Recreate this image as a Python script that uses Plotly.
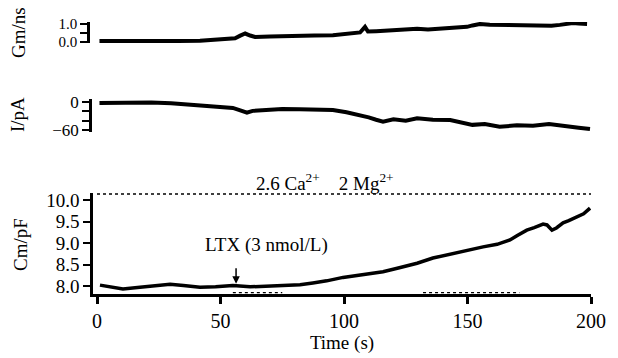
import plotly.graph_objects as go

# ---- data ----
gm_t = [1, 10, 20, 30, 41.7, 50, 55.9, 58, 60, 62, 64, 70, 76, 82, 88, 95.5, 101, 106.5, 108.5, 109.7, 113, 115.8, 120, 125, 129.6, 134, 140, 145, 149.8, 152, 155, 159, 163.2, 168, 172, 176.5, 181, 184, 187.4, 190, 192.7, 195, 198.4]
gm_v = [0.05, 0.04, 0.05, 0.05, 0.07, 0.12, 0.21, 0.35, 0.47, 0.36, 0.28, 0.3, 0.33, 0.37, 0.36, 0.38, 0.45, 0.53, 0.84, 0.58, 0.6, 0.63, 0.68, 0.72, 0.74, 0.7, 0.74, 0.8, 0.84, 0.92, 1.0, 0.96, 0.95, 0.93, 0.9, 0.89, 0.92, 0.9, 0.95, 1.0, 1.05, 1.02, 1.0]

i_t = [1, 8, 14.6, 22, 30, 41.7, 48, 55, 58, 60.7, 63, 68.8, 75, 82, 88, 95.5, 101, 106.5, 110, 113, 115.8, 120, 125, 129.6, 136, 143, 148, 152, 157, 163, 170, 176.5, 183, 187, 190, 195, 199.6]
i_v = [-2, -1, -1.5, -1, -2.5, -6.4, -9, -12.8, -18, -23, -19, -17, -15, -15.6, -16, -17, -22, -28, -33, -38, -42, -37, -40, -35, -38, -38.5, -44, -49, -47, -53, -50, -51, -47, -50, -53, -55, -58]

cm_t = [1.2, 5.3, 10.5, 17.4, 24, 29.6, 35, 41.7, 48, 55, 62, 68.8, 75, 82.2, 87.4, 93, 99.6, 106, 110, 115.8, 122, 129.6, 136, 140, 145.7, 151, 156.3, 162, 167.2, 170, 174, 177, 180.6, 182.2, 184.2, 186, 188.7, 191, 194.3, 197, 199.6]
cm_v = [8.02, 7.98, 7.93, 7.97, 8.0, 8.04, 8.01, 7.97, 7.98, 8.01, 7.98, 7.99, 8.01, 8.03, 8.07, 8.12, 8.2, 8.25, 8.28, 8.33, 8.42, 8.53, 8.65, 8.7, 8.79, 8.84, 8.91, 8.97, 9.07, 9.17, 9.3, 9.36, 9.44, 9.42, 9.3, 9.35, 9.47, 9.52, 9.6, 9.68, 9.81]

solution_level = 10.14
solution_t = [0, 200]
baseline_level = 7.845
baseline_t = [55, 75, None, 132, 171]
ltx_time = 56.3

x_ticks = [0, 50, 100, 150, 200]
cm_ticks = [8.0, 8.5, 9.0, 9.5, 10.0]
gm_ticks = [0.0, 0.5, 1.0]
gm_labels = ["0.0", "", "1.0"]
i_ticks = [0, -20, -40, -60]
i_labels = ["0", "", "", "\u221260"]

FONT = "Liberation Serif"
BLACK = "#000000"

fig = go.Figure()
fig.add_trace(go.Scatter(x=gm_t, y=gm_v, mode="lines", yaxis="y3",
                         line=dict(color=BLACK, width=4), showlegend=False))
fig.add_trace(go.Scatter(x=i_t, y=i_v, mode="lines", yaxis="y2",
                         line=dict(color=BLACK, width=4), showlegend=False))
fig.add_trace(go.Scatter(x=cm_t, y=cm_v, mode="lines", yaxis="y",
                         line=dict(color=BLACK, width=3.5), showlegend=False))
fig.add_trace(go.Scatter(x=solution_t, y=[solution_level] * len(solution_t), mode="lines",
                         yaxis="y", line=dict(color=BLACK, width=1.3, dash="dot"),
                         showlegend=False))
fig.add_trace(go.Scatter(x=baseline_t,
                         y=[None if t is None else baseline_level for t in baseline_t],
                         mode="lines", yaxis="y", connectgaps=False,
                         line=dict(color=BLACK, width=1.3, dash="dot"), showlegend=False))

L, R, T, B = 86, 27, 20, 64
W, H = 618, 358
pw = W - L - R
ph = H - T - B


def px(xp):
    return (xp - L) / pw


def py(yp):
    return (T + ph - yp) / ph


common_y = dict(showline=True, linecolor=BLACK, linewidth=2.5, ticks="outside",
                tickcolor=BLACK, tickwidth=2, ticklen=7, showgrid=False,
                zeroline=False)

fig.update_layout(
    width=W, height=H,
    margin=dict(l=L, r=R, t=T, b=B),
    paper_bgcolor="white", plot_bgcolor="white",
    font=dict(family=FONT, color=BLACK),
    xaxis=dict(domain=[px(93), 1], range=[-1.62, 200], showline=True, linecolor=BLACK,
               linewidth=3, ticks="outside", tickcolor=BLACK, tickwidth=2.5, ticklen=7,
               tickvals=x_ticks, showgrid=False, zeroline=False, anchor="y",
               tickfont=dict(family=FONT, size=20, color=BLACK),
               title=dict(text="Time (s)", font=dict(family=FONT, size=19, color=BLACK), standoff=2)),
    yaxis=dict(domain=[0, py(193)], range=[7.814, 10.163], tickvals=cm_ticks,
               tickformat=".1f", anchor="x",
               tickfont=dict(family=FONT, size=19, color=BLACK), **common_y),
    yaxis2=dict(domain=[py(132), py(99)], range=[-64.3, 6.4], tickvals=i_ticks,
                ticktext=i_labels, anchor="free", position=px(90),
                tickfont=dict(family=FONT, size=17, color=BLACK), **common_y),
    yaxis3=dict(domain=[py(43), py(22)], range=[-0.056, 1.11], tickvals=gm_ticks,
                ticktext=gm_labels, anchor="free", position=px(88),
                tickfont=dict(family=FONT, size=15, color=BLACK), **common_y),
)

ann_font = dict(family=FONT, size=19, color=BLACK)
for label, xp, yp in [("Gm/ns", 18, 33), ("I/pA", 18, 115), ("Cm/pF", 20, 245)]:
    fig.add_annotation(text=label, xref="paper", yref="paper", x=px(xp), y=py(yp),
                       xanchor="center", yanchor="middle", textangle=-90,
                       showarrow=False, font=ann_font)
fig.add_annotation(text="2.6 Ca<sup>2+</sup>    2 Mg<sup>2+</sup>", xref="paper", yref="paper",
                   x=px(325), y=py(182), xanchor="center", yanchor="middle",
                   showarrow=False, font=ann_font)
fig.add_annotation(text="LTX (3 nmol/L)", xref="paper", yref="paper",
                   x=px(266), y=py(245), xanchor="center", yanchor="middle",
                   showarrow=False, font=ann_font)
fig.add_annotation(x=ltx_time, y=8.05, xref="x", yref="y", ax=0, ay=-17, text="",
                   showarrow=True, arrowhead=2, arrowsize=1, arrowwidth=1.5, arrowcolor=BLACK)

fig.write_html("out.html")
